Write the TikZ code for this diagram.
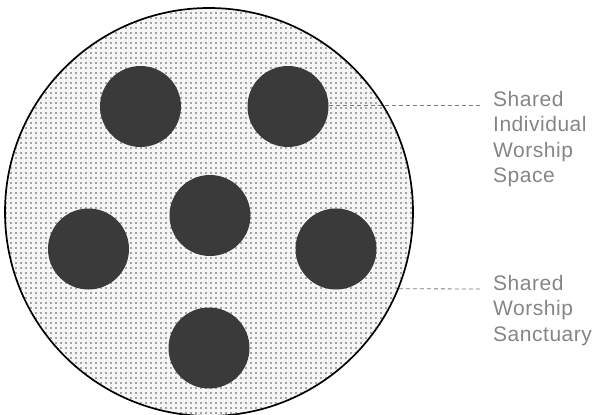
\documentclass[tikz,border=0pt]{standalone}
\usepackage{fontspec}
\setmainfont{Liberation Sans}
\newfontfamily\labelfont[LetterSpace=2.5]{Liberation Sans}
\usetikzlibrary{patterns}
\pgfdeclarepatternformonly{halftone}{\pgfpointorigin}{\pgfpoint{4.5pt}{4.5pt}}{\pgfpoint{4.5pt}{4.5pt}}{%
  \pgfpathcircle{\pgfpoint{2.25pt}{2.25pt}}{0.95pt}\pgfusepath{fill}}
\definecolor{dotgray}{HTML}{505050}
\definecolor{bgdot}{HTML}{F6F6F6}
\definecolor{space}{HTML}{3A3A3A}
\definecolor{labelgray}{HTML}{858585}
\definecolor{dashgray}{HTML}{7A7A7A}
\tikzset{
  sanctuary/.style={circle, minimum size=408pt, inner sep=0pt, draw=black, line width=1.7pt, fill=bgdot},
  worship/.style={circle, minimum size=81pt, inner sep=0pt, fill=space},
  leader/.style={dashgray, line width=0.8pt, dash pattern=on 4pt off 3pt},
  caption/.style={anchor=north west, align=left, inner sep=0pt, text=labelgray,
    font=\labelfont\fontsize{21}{25.5}\selectfont}
}
\begin{document}
\begin{tikzpicture}[x=1pt,y=-1pt]
\useasboundingbox (0,0) rectangle (595,415);
\node[sanctuary] (sanct) at (209,212) {};
\fill[pattern=halftone, pattern color=dotgray] (209,212) circle (203.1pt);
\node[worship] (tl) at (140.5,106.5) {};
\node[worship] (tr) at (288,106.5) {};
\node[worship] (c) at (210,215.5) {};
\node[worship] (l) at (88.5,249) {};
\node[worship] (r) at (336,249) {};
\node[worship] (b) at (209,348) {};
\coordinate (e1) at (482,105);
\coordinate (e2) at (482,289);
\draw[leader] (tr.east |- e1) -- (e1);
\draw[leader] (sanct.-22.2) -- (e2);
\node[caption] (lab1) at (493,90.7) {Shared\\Individual\\Worship\\Space};
\node[caption] (lab2) at (493,274.7) {Shared\\Worship\\Sanctuary};
\end{tikzpicture}
\end{document}
